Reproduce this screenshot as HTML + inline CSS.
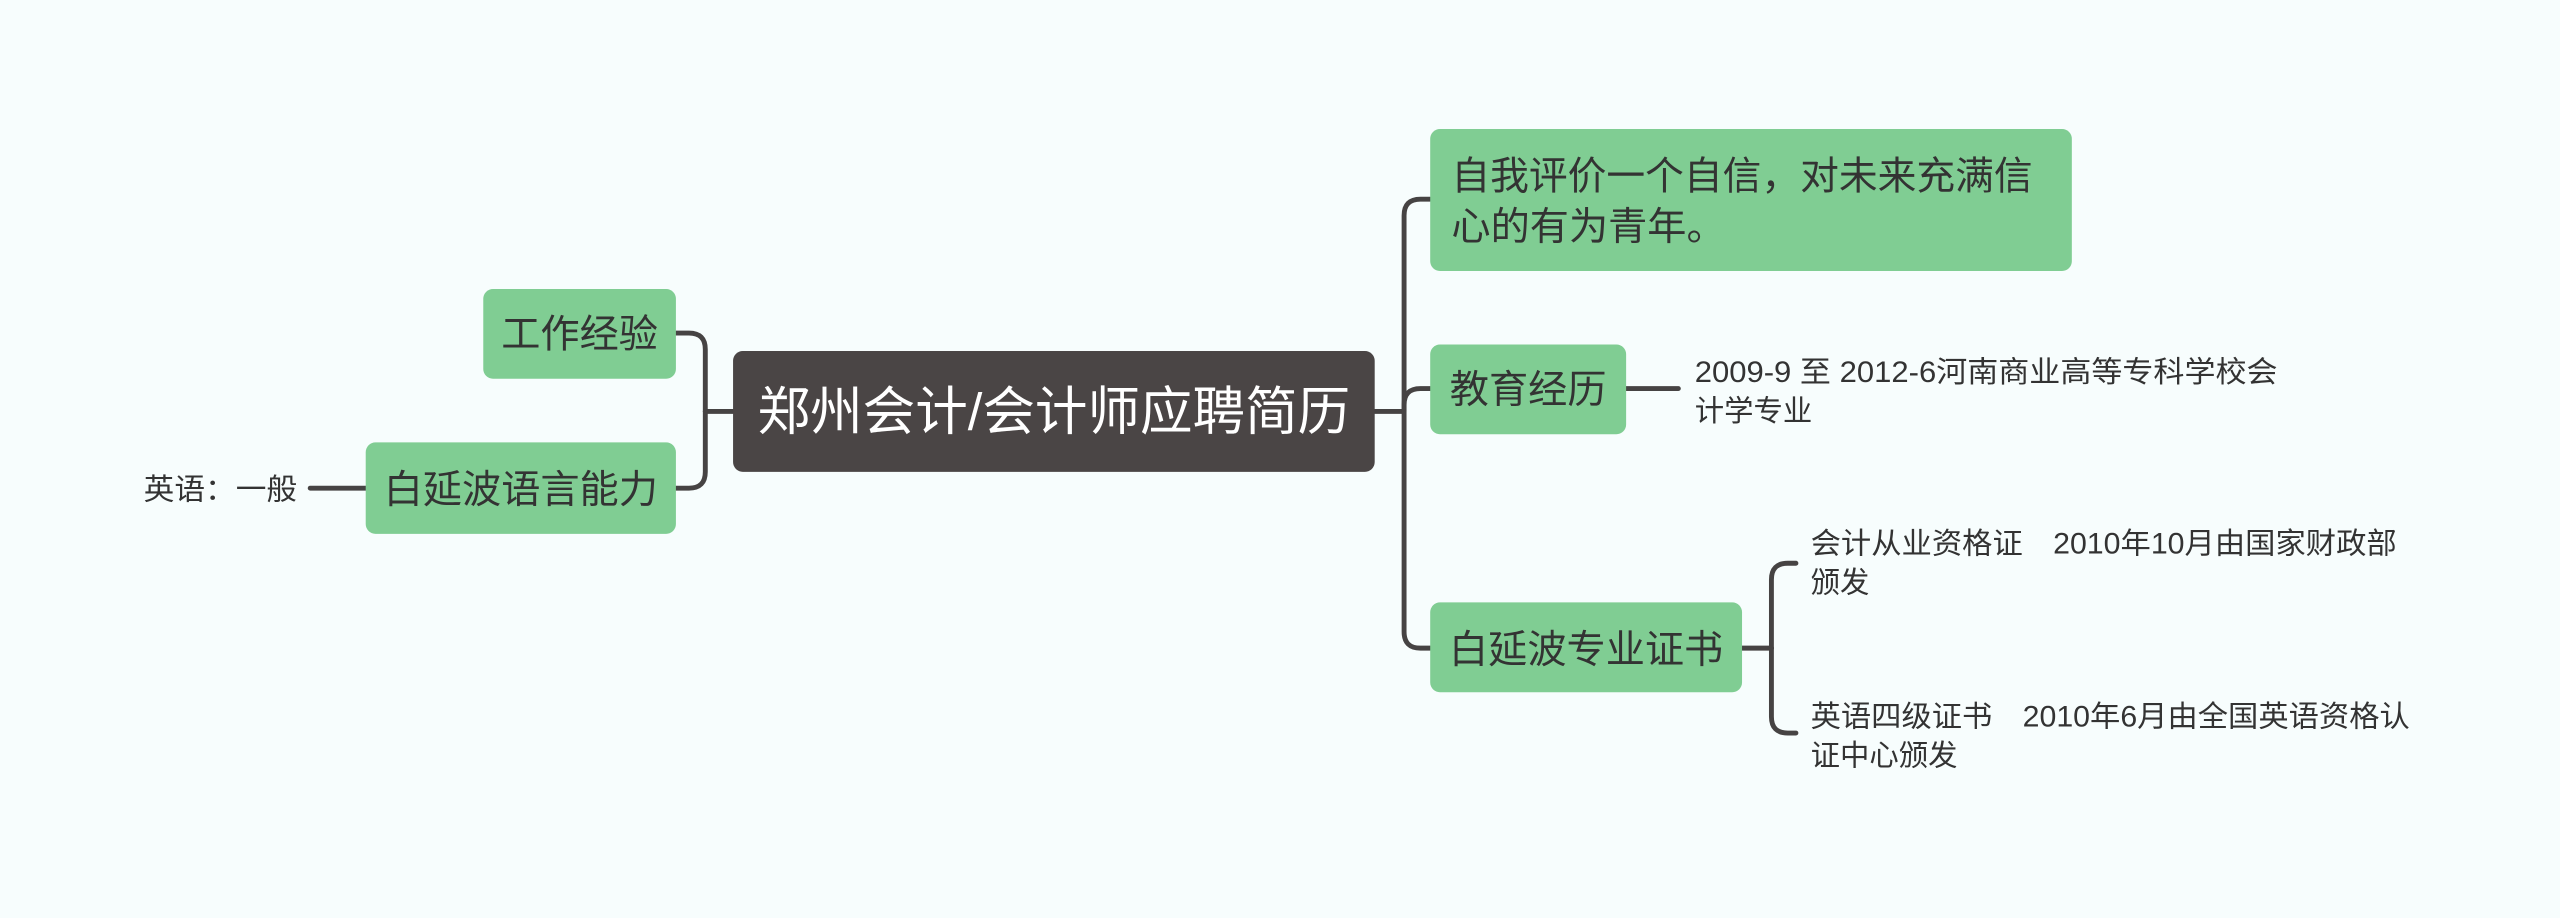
<!DOCTYPE html>
<html><head><meta charset="utf-8"><style>
html,body{margin:0;padding:0;background:#f7fdfd;}
svg{display:block;}
text{font-family:"Liberation Sans","Noto Sans CJK SC",sans-serif;fill:#333;}
</style></head><body>
<svg width="2560" height="918" viewBox="0 0 1568 562.3" preserveAspectRatio="none" xmlns="http://www.w3.org/2000/svg">
<rect width="1568" height="563" fill="#f7fdfd"/>
<g fill="none" stroke="#464343" stroke-width="3" stroke-linecap="round">
<path d="M842 252 H860"/>
<path d="M860 252 V132 Q860 122 870 122 H876"/>
<path d="M860 252 V248 Q860 238 870 238 H876"/>
<path d="M860 252 V387 Q860 397 870 397 H876"/>
<path d="M449 252 H432"/>
<path d="M432 252 V214 Q432 204 422 204 H414"/>
<path d="M432 252 V289 Q432 299 422 299 H414"/>
<path d="M1067 397 H1085"/>
<path d="M1085 397 V355 Q1085 345 1095 345 H1100"/>
<path d="M1085 397 V439 Q1085 449 1095 449 H1100"/>
<path d="M996 238 H1028"/>
<path d="M190 299 H224"/>
</g>
<rect x="449" y="215" width="393" height="74" rx="6" fill="#4a4545"/>
<text x="645.5" y="263" font-size="32" text-anchor="middle" textLength="363" lengthAdjust="spacingAndGlyphs" style="fill:#fff">郑州会计/会计师应聘简历</text>
<rect x="296" y="177" width="118" height="55" rx="6" fill="#80cd93"/>
<text x="355" y="213" font-size="24" text-anchor="middle">工作经验</text>
<rect x="224" y="271" width="190" height="56" rx="6" fill="#80cd93"/>
<text x="319" y="308" font-size="24" text-anchor="middle">白延波语言能力</text>
<text x="88" y="306" font-size="18" textLength="94" lengthAdjust="spacingAndGlyphs">英语：一般</text>
<rect x="876" y="79" width="393" height="87" rx="6" fill="#80cd93"/>
<text x="889" y="116" font-size="24" textLength="356" lengthAdjust="spacingAndGlyphs">自我评价一个自信，对未来充满信</text>
<text x="889" y="147" font-size="24">心的有为青年。</text>
<rect x="876" y="211" width="120" height="55" rx="6" fill="#80cd93"/>
<text x="936" y="247" font-size="24" text-anchor="middle">教育经历</text>
<text x="1038" y="234" font-size="18" textLength="357" lengthAdjust="spacingAndGlyphs">2009-9 至 2012-6河南商业高等专科学校会</text>
<text x="1038" y="258" font-size="18">计学专业</text>
<rect x="876" y="369" width="191" height="55" rx="6" fill="#80cd93"/>
<text x="971.5" y="406" font-size="24" text-anchor="middle">白延波专业证书</text>
<text x="1109" y="339" font-size="18" textLength="359" lengthAdjust="spacingAndGlyphs" xml:space="preserve">会计从业资格证　2010年10月由国家财政部</text>
<text x="1109" y="363" font-size="18">颁发</text>
<text x="1109" y="445" font-size="18" textLength="367" lengthAdjust="spacingAndGlyphs" xml:space="preserve">英语四级证书　2010年6月由全国英语资格认</text>
<text x="1109" y="469" font-size="18">证中心颁发</text>
</svg>
</body></html>
